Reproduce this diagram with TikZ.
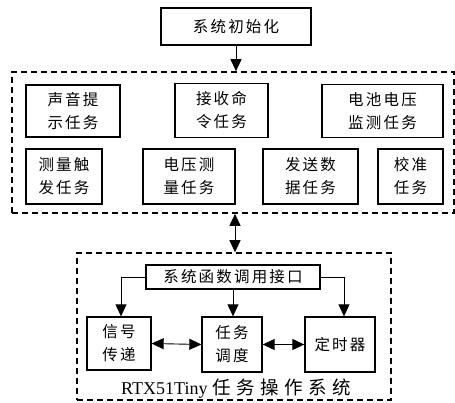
\documentclass[tikz,border=0pt]{standalone}
\usepackage{fontspec}
\setmainfont{Liberation Serif}
\newfontfamily\cjk[LetterSpace=14]{Noto Sans CJK SC}
\newfontfamily\cjkwide[LetterSpace=30]{Noto Sans CJK SC}
\usetikzlibrary{arrows.meta}
\tikzset{
  box/.style={draw, line width=1.3pt, rectangle, inner sep=0pt, align=center,
    font=\cjk\fontsize{15.5}{23}\selectfont},
  grp/.style={draw, line width=1.6pt, dash pattern=on 6pt off 4pt, rectangle, inner sep=0pt},
  arr/.style={line width=0.9pt, -{Triangle[length=12pt,width=11pt]}},
  darr/.style={line width=0.9pt, {Triangle[length=12pt,width=11pt]}-{Triangle[length=12pt,width=11pt]}}
}
\begin{document}
\begin{tikzpicture}[x=1pt,y=-1pt]
\useasboundingbox (0,0) rectangle (455,403);
% top
\node[box, minimum width=150pt, minimum height=37pt] (init) at (236,26.5) {系统初始化};
% group 1
\node[grp, minimum width=442pt, minimum height=141pt] (grp1) at (233,142.5) {};
\node[box, minimum width=94pt, minimum height=52pt] (a1) at (73,111) {声音提\\示任务};
\node[box, minimum width=93pt, minimum height=54pt] (a2) at (221.5,110.5) {接收命\\令任务};
\node[box, minimum width=121pt, minimum height=53pt] (a3) at (382.5,111) {电池电压\\监测任务};
\node[box, minimum width=76pt, minimum height=55pt] (b1) at (64,176.5) {测量触\\发任务};
\node[box, minimum width=92pt, minimum height=55pt] (b2) at (189,176.5) {电压测\\量任务};
\node[box, minimum width=95pt, minimum height=55pt] (b3) at (310.5,176.5) {发送数\\据任务};
\node[box, minimum width=65pt, minimum height=55pt] (b4) at (410.5,176.5) {校准\\任务};
\draw[arr] (init.south) -- (init.south |- grp1.north);
% group 2
\node[grp, minimum width=314pt, minimum height=147pt] (grp2) at (234,326.5) {};
\draw[darr] (grp1.south -| 235,0) -- (grp2.north -| 235,0);
\node[box, minimum width=174pt, minimum height=24pt] (iface) at (233,277) {系统函数调用接口};
\node[box, minimum width=64pt, minimum height=53pt] (sig) at (119,343.5) {信号\\传递};
\node[box, minimum width=60pt, minimum height=55pt] (sched) at (232,344.5) {任务\\调度};
\node[box, minimum width=70pt, minimum height=55pt] (timer) at (340,344.5) {定时器};
\coordinate (lturn) at (121,277);
\coordinate (rturn) at (344,277);
\draw[arr] (iface.west) -- (lturn) -- (lturn |- sig.north);
\draw[arr] (iface.south) -- (iface.south |- sched.north);
\draw[arr] (iface.east) -- (rturn) -- (rturn |- timer.north);
\draw[darr] (sig.east) -- (sched.west);
\draw[darr] (sched.east) -- (timer.west);
\node[inner sep=0pt, font=\fontsize{18}{20}\selectfont] (lbl) at (236,389) {RTX51Tiny {\cjkwide\fontsize{18.5}{20}\selectfont 任务操作系统}};
\end{tikzpicture}
\end{document}
